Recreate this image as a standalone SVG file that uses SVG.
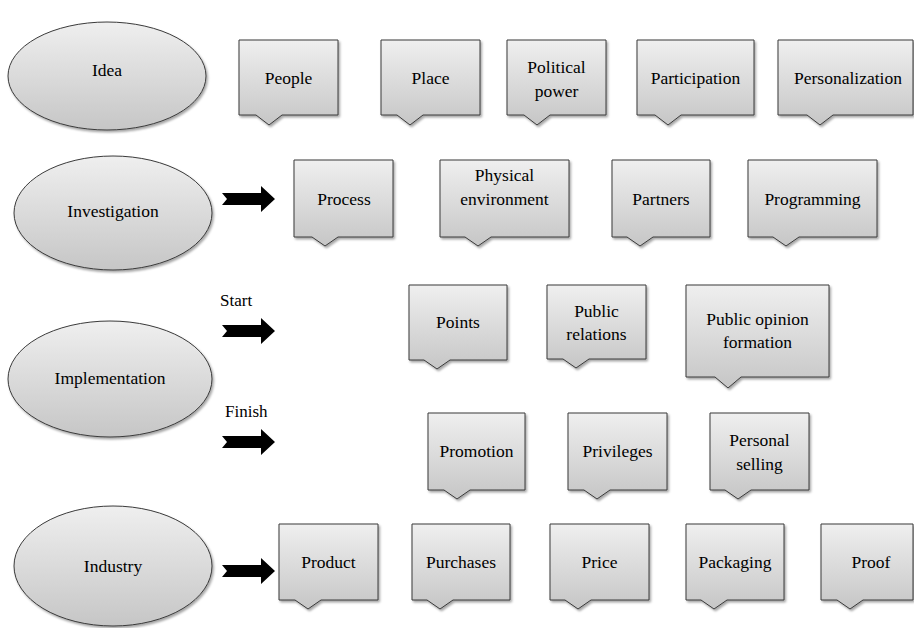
<svg xmlns="http://www.w3.org/2000/svg" width="914" height="628" viewBox="0 0 914 628">
<defs>
<linearGradient id="g" x1="0" y1="0" x2="0" y2="1">
<stop offset="0" stop-color="#efefef"/>
<stop offset="1" stop-color="#c6c6c6"/>
</linearGradient>
<filter id="sh" x="-10%" y="-10%" width="130%" height="130%">
<feDropShadow dx="1.5" dy="2" stdDeviation="1.2" flood-color="#000" flood-opacity="0.35"/>
</filter>
<path id="arr" d="M0,-6 H39 V-13 L53,0 L39,13 V6 H0 L5,0 Z" fill="#000"/>
</defs>
<style>
.n{fill:url(#g);stroke:#3a3a3a;stroke-width:1;filter:url(#sh)}
text{font-family:"Liberation Serif",Tinos,"Times New Roman","DejaVu Serif",serif}
.t{font-size:17.5px;fill:#000;text-anchor:middle}
.l{font-size:17px;fill:#000}
</style>
<rect width="914" height="628" fill="#fff"/>
<g id="idea"><ellipse class="n" cx="107" cy="76" rx="99" ry="54"/><text class="t" x="107" y="76" font-family="Liberation Serif">Idea</text></g>
<g id="investigation"><ellipse class="n" cx="113" cy="213" rx="99" ry="57"/><text class="t" x="113" y="217" font-family="Liberation Serif">Investigation</text></g>
<g id="implementation"><ellipse class="n" cx="110" cy="379" rx="102" ry="58"/><text class="t" x="110" y="384" font-family="Liberation Serif">Implementation</text></g>
<g id="industry"><ellipse class="n" cx="113" cy="566" rx="99" ry="60"/><text class="t" x="113" y="572" font-family="Liberation Serif">Industry</text></g>

<g id="connectors">
<use href="#arr" x="222" y="199"/>
<use href="#arr" x="222" y="331"/>
<use href="#arr" x="222" y="442"/>
<use href="#arr" x="222" y="571"/>
</g>
<text class="l" x="220" y="306" font-family="Liberation Serif">Start</text>
<text class="l" x="225" y="417" font-family="Liberation Serif">Finish</text>

<g id="people"><path class="n" d="M239,40H338V115H282L269,125L256,115H239Z"/><text class="t" x="288.5" y="84" font-family="Liberation Serif">People</text></g>
<g id="place"><path class="n" d="M381,40H480V115H423L410,125L397,115H381Z"/><text class="t" x="430.5" y="84" font-family="Liberation Serif">Place</text></g>
<g id="political-power"><path class="n" d="M507,40H606V115H550L537,125L524,115H507Z"/><text class="t" x="556.5" y="73" font-family="Liberation Serif">Political</text><text class="t" x="556.5" y="97" font-family="Liberation Serif">power</text></g>
<g id="participation"><path class="n" d="M637,40H754V115H681L668,125L655,115H637Z"/><text class="t" x="695.5" y="84" font-family="Liberation Serif">Participation</text></g>
<g id="personalization"><path class="n" d="M778,40H913V115H833L820,125L807,115H778Z"/><text class="t" x="848" y="84" font-family="Liberation Serif">Personalization</text></g>

<g id="process"><path class="n" d="M294,160H393V237H338L325,246L312,237H294Z"/><text class="t" x="344" y="205" font-family="Liberation Serif">Process</text></g>
<g id="physical-environment"><path class="n" d="M440,160H569V237H491L478,246L465,237H440Z"/><text class="t" x="504.5" y="181" font-family="Liberation Serif">Physical</text><text class="t" x="504.5" y="205" font-family="Liberation Serif">environment</text></g>
<g id="partners"><path class="n" d="M612,160H710V237H653L640,246L627,237H612Z"/><text class="t" x="661" y="205" font-family="Liberation Serif">Partners</text></g>
<g id="programming"><path class="n" d="M748,160H877V237H799L786,246L773,237H748Z"/><text class="t" x="812.5" y="205" font-family="Liberation Serif">Programming</text></g>

<g id="points"><path class="n" d="M409,285H507V360H450L437,369L424,360H409Z"/><text class="t" x="458" y="328" font-family="Liberation Serif">Points</text></g>
<g id="public-relations"><path class="n" d="M547,285H646V359H589L576,368L563,359H547Z"/><text class="t" x="596.5" y="317" font-family="Liberation Serif">Public</text><text class="t" x="596.5" y="340" font-family="Liberation Serif">relations</text></g>
<g id="public-opinion-formation"><path class="n" d="M686,285H829V377H741L728,388L715,377H686Z"/><text class="t" x="757.5" y="325" font-family="Liberation Serif">Public opinion</text><text class="t" x="757.5" y="348" font-family="Liberation Serif">formation</text></g>

<g id="promotion"><path class="n" d="M428,413H525V490H470L457,499L444,490H428Z"/><text class="t" x="476.5" y="457" font-family="Liberation Serif">Promotion</text></g>
<g id="privileges"><path class="n" d="M568,413H667V490H610L597,499L584,490H568Z"/><text class="t" x="617.5" y="457" font-family="Liberation Serif">Privileges</text></g>
<g id="personal-selling"><path class="n" d="M710,413H809V490H751L738,499L725,490H710Z"/><text class="t" x="759.5" y="446" font-family="Liberation Serif">Personal</text><text class="t" x="759.5" y="470" font-family="Liberation Serif">selling</text></g>

<g id="product"><path class="n" d="M279,524H378V600H321L308,609L295,600H279Z"/><text class="t" x="328.5" y="568" font-family="Liberation Serif">Product</text></g>
<g id="purchases"><path class="n" d="M412,524H510V600H453L440,609L427,600H412Z"/><text class="t" x="461" y="568" font-family="Liberation Serif">Purchases</text></g>
<g id="price"><path class="n" d="M550,524H649V600H591L578,609L565,600H550Z"/><text class="t" x="599.5" y="568" font-family="Liberation Serif">Price</text></g>
<g id="packaging"><path class="n" d="M686,524H784V600H727L714,609L701,600H686Z"/><text class="t" x="735" y="568" font-family="Liberation Serif">Packaging</text></g>
<g id="proof"><path class="n" d="M821,524H913V600H863L850,609L837,600H821Z"/><text class="t" x="871" y="568" font-family="Liberation Serif">Proof</text></g>
</svg>
